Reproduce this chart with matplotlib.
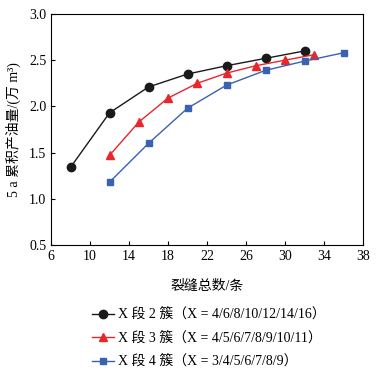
import matplotlib.pyplot as plt

plt.rcParams['font.family'] = ['Liberation Serif', 'Noto Sans CJK SC']
plt.rcParams['font.size'] = 10

# data
x2 = [8, 12, 16, 20, 24, 28, 32]
y2 = [1.34, 1.93, 2.21, 2.35, 2.44, 2.52, 2.60]
x3 = [12, 15, 18, 21, 24, 27, 30, 33]
y3 = [1.47, 1.83, 2.09, 2.25, 2.36, 2.44, 2.50, 2.56]
x4 = [12, 16, 20, 24, 28, 32, 36]
y4 = [1.18, 1.60, 1.98, 2.23, 2.39, 2.49, 2.58]

labels = ["X 段 2 簇（X = 4/6/8/10/12/14/16）",
          "X 段 3 簇（X = 4/5/6/7/8/9/10/11）",
          "X 段 4 簇（X = 3/4/5/6/7/8/9）"]

fig = plt.figure(figsize=(3.85, 3.71), dpi=100)
ax = fig.add_axes([51/385, 1 - 245/371, 312/385, 231/371])

ax.plot(x2, y2, color="#1a1a1a", marker="o", markersize=6, lw=1, label=labels[0])
ax.plot(x3, y3, color="#e8262b", marker="^", markersize=5.5, lw=1, label=labels[1])
ax.plot(x4, y4, color="#3a62b0", marker="s", markersize=4.5, lw=1, label=labels[2])

ax.set_xlim(6, 38)
ax.set_ylim(0.5, 3.0)
ax.set_xticks(range(6, 39, 4))
ax.set_yticks([0.5, 1.0, 1.5, 2.0, 2.5, 3.0])
ax.set_yticklabels(["0.5", "1.0", "1.5", "2.0", "2.5", "3.0"])
ax.tick_params(direction="in", length=3, labelsize=10)
ax.set_xlabel("裂缝总数/条", fontsize=10, labelpad=12)
ax.set_ylabel("5 a 累积产油量/(万 m³)", fontsize=10, labelpad=6)

ax.legend(loc="upper left", bbox_to_anchor=(35/312, -0.25), frameon=False,
          fontsize=10, handlelength=1.6, handletextpad=0.3,
          labelspacing=0.75, borderaxespad=0)

fig.savefig("out.png", dpi=100)
